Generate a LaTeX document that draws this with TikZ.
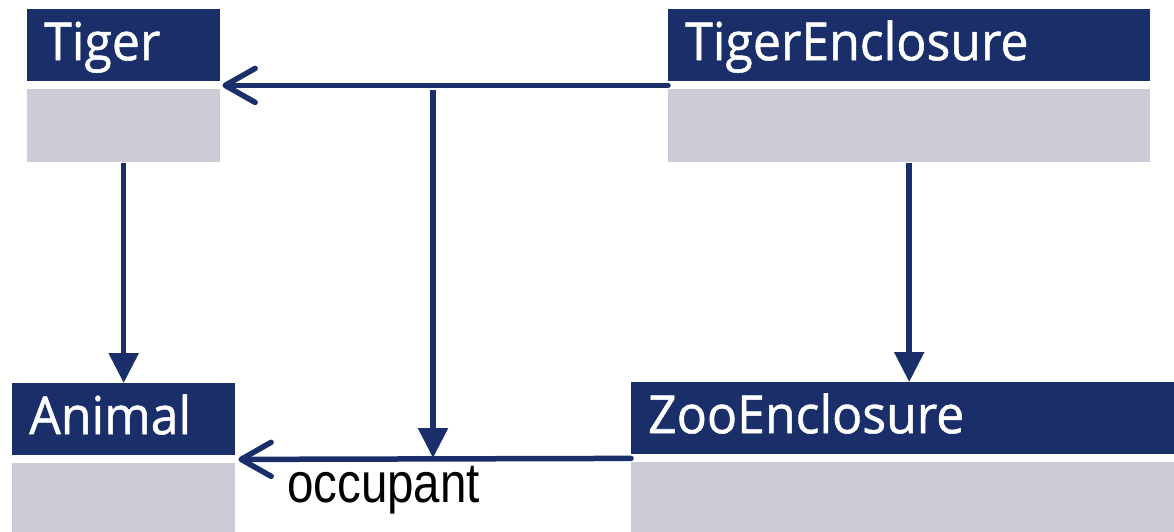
\documentclass[tikz,border=0pt]{standalone}
\usepackage{fontspec}
\usepackage{graphicx}
\usetikzlibrary{arrows.meta}
\setmainfont{Liberation Sans}
\newfontfamily\headfont[FakeBold=1.0]{Open Sans}
\definecolor{umlnavy}{RGB}{26,47,106}
\definecolor{umlgray}{RGB}{203,204,214}
\newcommand{\headtext}[1]{\scalebox{1}[1.05]{#1}}
\begin{document}
\begin{tikzpicture}[x=1pt,y=-1pt,
  header/.style={rectangle, fill=umlnavy, anchor=north west, inner xsep=17pt, inner ysep=0pt,
    minimum height=72pt, align=left, text=white,
    font=\headfont\fontsize{50}{50}\selectfont, text height=40pt, text depth=10pt},
  body/.style={rectangle, fill=umlgray, anchor=north west, inner sep=0pt},
  link/.style={draw=umlnavy, line width=5.5pt},
  gen/.style={link, -{Triangle[length=30pt,width=29pt]}},
  assoc/.style={link, line cap=round, -{Straight Barb[length=30pt,width=34pt,line join=round,line cap=round]}}]
\useasboundingbox (0,0) rectangle (1174,532);

% classes: name compartment and empty attribute compartment
\node[header, text width=159pt] (tigerH) at (27,9) {\headtext{Tiger}};
\node[body, minimum width=193pt, minimum height=73pt] (tigerB) at (27,89) {};

\node[header, text width=448pt] (teH) at (668,9) {\headtext{TigerEnclosure}};
\node[body, minimum width=482pt, minimum height=73pt] (teB) at (668,89) {};

\node[header, text width=189pt] (animalH) at (12,383) {\headtext{Animal}};
\node[body, minimum width=223pt, minimum height=69pt] (animalB) at (12,463) {};

\node[header, text width=509pt] (zooH) at (631,382) {\headtext{ZooEnclosure}};
\node[body, minimum width=543pt, minimum height=70pt] (zooB) at (631,462) {};

% generalizations
\draw[gen] ([yshift=-1pt]tigerB.south) -- (animalH.north);
\draw[gen] ([yshift=-1pt]teB.south) -- (teB.south |- zooH.north);

% associations
\draw[assoc] ([yshift=-4pt]teH.south west) -- ([yshift=-4pt,xshift=2pt]tigerH.south east);
\draw[assoc] ([yshift=-4pt]zooH.south west) -- ([yshift=-4pt,xshift=3pt]animalH.south east);

% redefinition of the occupant end
\coordinate (occTop) at (433,90);
\coordinate (occBot) at (433,458);
\draw[gen] (occTop) -- (occBot);
\node[anchor=base west, inner sep=0pt, font=\fontsize{47.5}{48}\selectfont] (occ) at (287,502)
  {\scalebox{1}[1.18]{occupant}};
\end{tikzpicture}
\end{document}
